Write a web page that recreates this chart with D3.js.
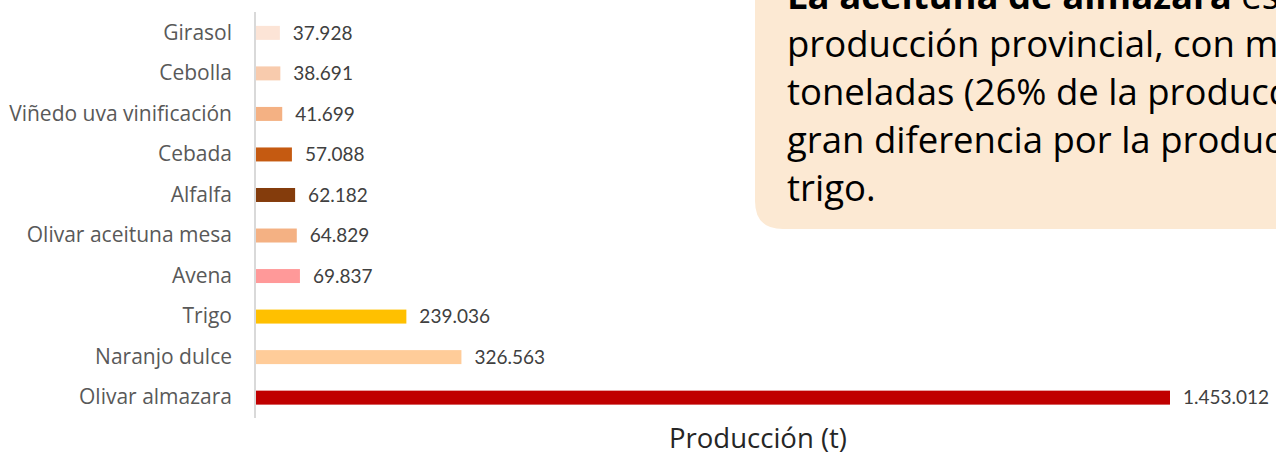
<!DOCTYPE html>
<html>
<head>
<meta charset="utf-8">
<script src="https://cdn.jsdelivr.net/npm/d3@7"></script>
<style>
  html, body { margin: 0; padding: 0; background: #ffffff; }
  svg { display: block; }
</style>
</head>
<body>
<svg id="chart" width="1276" height="455"></svg>
<script>
// ---- data ----
const categories = ["Girasol", "Cebolla", "Viñedo uva vinificación", "Cebada", "Alfalfa",
  "Olivar aceituna mesa", "Avena", "Trigo ", "Naranjo dulce", "Olivar almazara"];
const values = [37928, 38691, 41699, 57088, 62182, 64829, 69837, 239036, 326563, 1453012];
const valueLabels = ["37.928", "38.691", "41.699", "57.088", "62.182", "64.829", "69.837",
  "239.036", "326.563", "1.453.012"];
const barColors = ["#FCE4D6", "#F8CBAD", "#F4B183", "#C55A11", "#843C0C",
  "#F4B183", "#FF9999", "#FFC000", "#FFCC99", "#C00000"];
const axisTitle = "Producción (t)";
const noteLines = [
  [{t: "La aceituna de almazara", b: true}, {t: " es la", b: false}],
  [{t: "producción provincial, con más", b: false}],
  [{t: "toneladas (26% de la producción", b: false}],
  [{t: "gran diferencia por la producción", b: false}],
  [{t: "trigo.", b: false}]
];

// ---- layout ----
const W = 1276, H = 455;
const svg = d3.select("#chart");
const fontA = "'Open Sans', Lato, sans-serif";
const fontB = "Lato, 'Open Sans', sans-serif";

const x = d3.scaleLinear().domain([0, d3.max(values)]).range([256, 1170]);
const y = d3.scaleBand().domain(categories).range([12.5, 418]).paddingInner(0.655).paddingOuter(0.33);

// bars
svg.append("g").selectAll("rect").data(categories).join("rect")
  .attr("x", x(0))
  .attr("y", d => y(d))
  .attr("width", (d, i) => x(values[i]) - x(0))
  .attr("height", y.bandwidth())
  .attr("fill", (d, i) => barColors[i]);

// category axis
const yAxis = svg.append("g").attr("transform", "translate(255,0)")
  .call(d3.axisLeft(y).tickSize(0).tickPadding(23));
yAxis.select(".domain").attr("stroke", "#D9D9D9").attr("stroke-width", 2)
  .attr("d", "M0,12V418");
yAxis.selectAll("text")
  .attr("fill", "#595959")
  .style("font-family", fontA)
  .style("font-size", "21px");

// value labels
svg.append("g").selectAll("text").data(categories).join("text")
  .attr("x", (d, i) => x(values[i]) + 13)
  .attr("y", d => y(d) + y.bandwidth() / 2)
  .attr("dy", "0.35em")
  .attr("fill", "#404040")
  .style("font-family", fontB)
  .style("font-size", "19px")
  .text((d, i) => valueLabels[i]);

// axis title
svg.append("text")
  .attr("x", 758).attr("y", 448)
  .attr("text-anchor", "middle")
  .attr("fill", "#262626")
  .style("font-family", fontA)
  .style("font-size", "27.5px")
  .text(axisTitle);

// note box
const boxX = 755, boxBottom = 229, r = 28;
svg.append("path")
  .attr("d", `M${boxX},-40 V${boxBottom - r} Q${boxX},${boxBottom} ${boxX + r},${boxBottom} H${W + 40} V-40 Z`)
  .attr("fill", "#FCE9D3");

const noteG = svg.append("g");
noteLines.forEach((line, i) => {
  const t = noteG.append("text")
    .attr("x", 787).attr("y", 9 + i * 48)
    .attr("fill", "#000000")
    .style("font-family", fontA)
    .style("font-size", "36.5px");
  line.forEach(seg => {
    t.append("tspan").attr("font-weight", seg.b ? "bold" : "normal").text(seg.t);
  });
});
</script>
</body>
</html>
